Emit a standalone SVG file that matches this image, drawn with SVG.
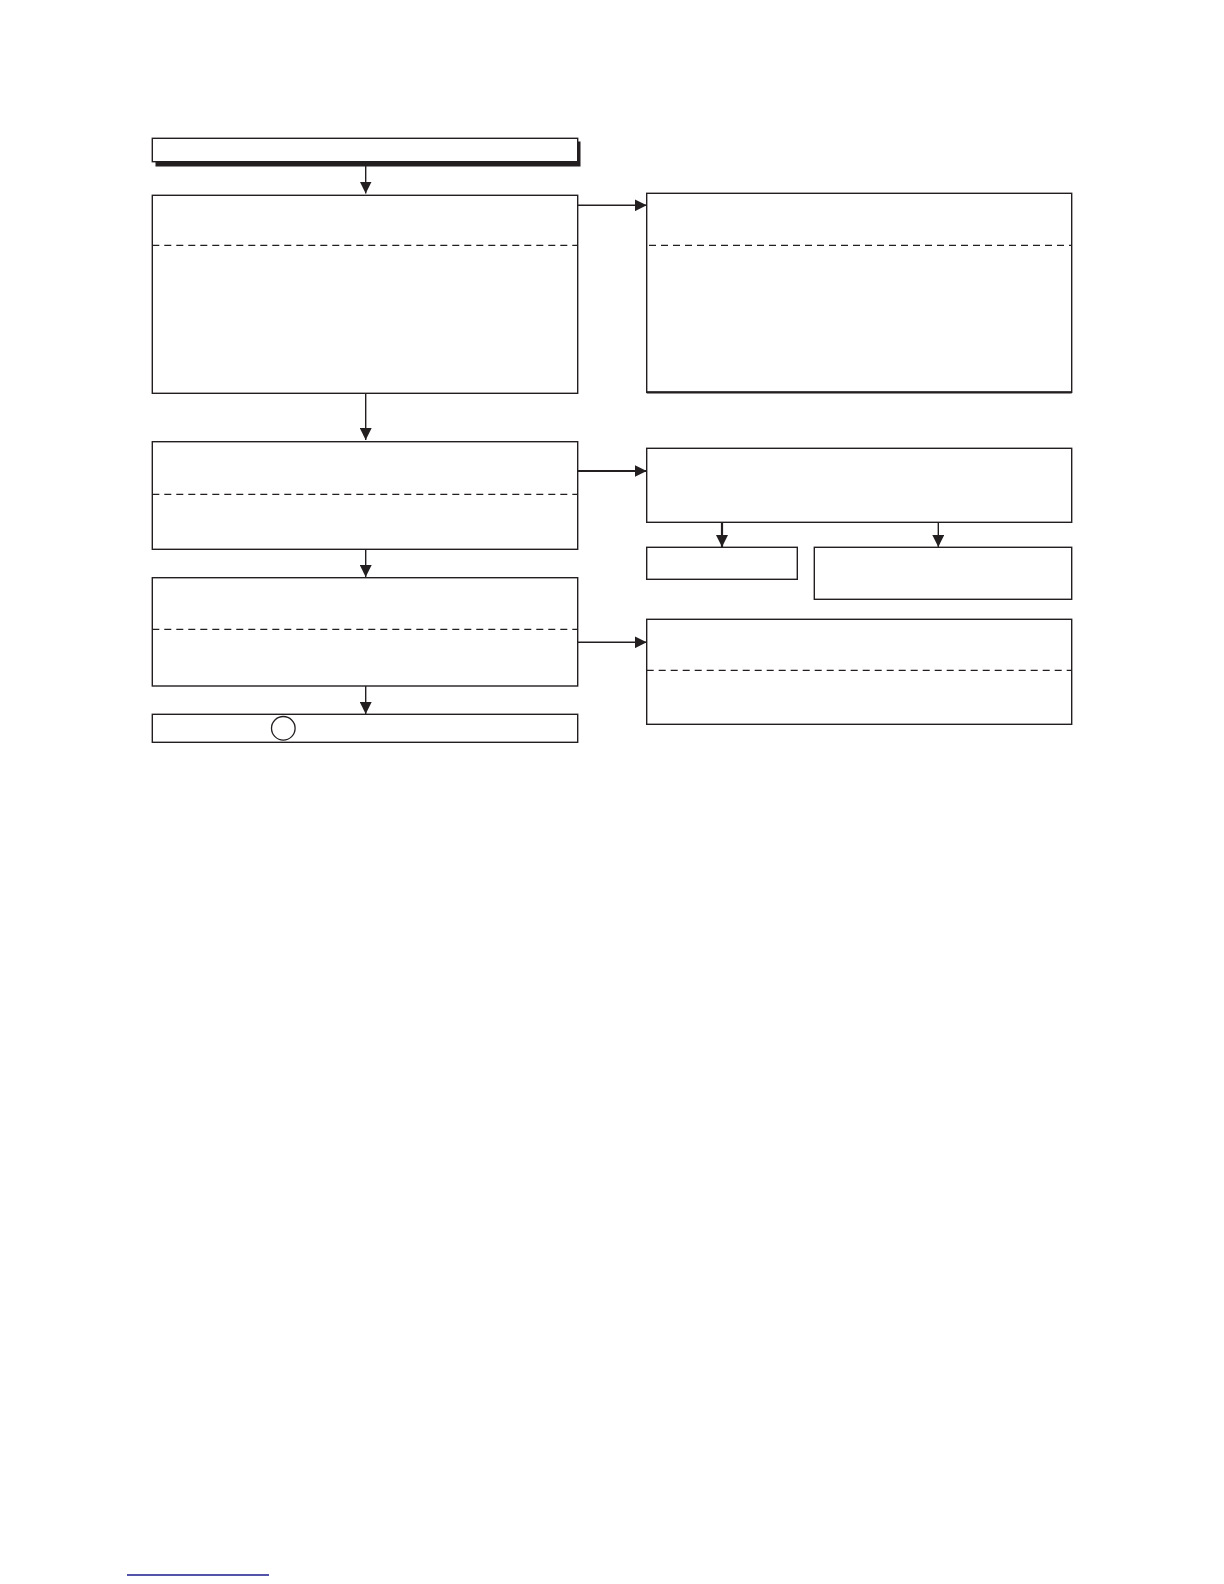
<svg xmlns="http://www.w3.org/2000/svg" width="1224" height="1584" viewBox="0 0 1224 1584">
<style>
.box{fill:#fff;stroke:#231f20;stroke-width:1.4}
.dash{stroke:#231f20;stroke-width:1.2;stroke-dasharray:7 5;fill:none}
.con{stroke:#231f20;stroke-width:1.4;fill:none}
.thick{stroke-width:2.2}
</style>
<defs>
<marker id="ah" viewBox="0 0 12 12" refX="12" refY="6" markerWidth="12" markerHeight="12" markerUnits="userSpaceOnUse" orient="auto">
<path d="M0,0 L12,6 L0,12 Z" fill="#231f20"/>
</marker>
</defs>
<rect width="1224" height="1584" fill="#fff"/>
<g id="n-title">
<rect x="155.5" y="141.5" width="425" height="25" fill="#231f20"/>
<rect class="box" x="152.3" y="138.3" width="425.4" height="23.4"/>
</g>
<g id="n-box1">
<rect class="box" x="152.3" y="195.3" width="425.4" height="198"/>
<line class="dash" x1="152.3" y1="245.3" x2="577.7" y2="245.3"/>
</g>
<g id="n-right1">
<rect class="box" x="646.7" y="193.3" width="425" height="199"/>
<line x1="646.7" y1="392.3" x2="1071.7" y2="392.3" stroke="#231f20" stroke-width="2.2"/>
<line class="dash" x1="649" y1="245.3" x2="1071.7" y2="245.3"/>
</g>
<g id="n-box2">
<rect class="box" x="152.3" y="441.7" width="425.4" height="107.6"/>
<line class="dash" x1="152.3" y1="494.3" x2="577.7" y2="494.3"/>
</g>
<g id="n-right2">
<rect class="box" x="646.7" y="448.3" width="425" height="74"/>
</g>
<g id="n-small1">
<rect class="box" x="646.7" y="547.3" width="150.6" height="32"/>
</g>
<g id="n-small2">
<rect class="box" x="814.3" y="547.3" width="257.4" height="52"/>
</g>
<g id="n-box3">
<rect class="box" x="152.3" y="577.7" width="425.4" height="108.3"/>
<line class="dash" x1="152.3" y1="629.3" x2="577.7" y2="629.3"/>
</g>
<g id="n-right3">
<rect class="box" x="646.7" y="619.3" width="425" height="105"/>
<line class="dash" x1="646.7" y1="670.3" x2="1071.7" y2="670.3"/>
</g>
<g id="n-end">
<rect class="box" x="152.3" y="714.3" width="425.4" height="28"/>
<circle cx="283.3" cy="728.3" r="11.8" fill="#fff" stroke="#231f20" stroke-width="1.3"/>
</g>
<g id="connectors">
<line class="con" x1="365.7" y1="161.7" x2="365.7" y2="193.5" marker-end="url(#ah)"/>
<line class="con" x1="577.7" y1="205.3" x2="646.7" y2="205.3" marker-end="url(#ah)"/>
<line class="con" x1="365.7" y1="393.3" x2="365.7" y2="440" marker-end="url(#ah)"/>
<line class="con thick" x1="577.7" y1="471" x2="646.7" y2="471" marker-end="url(#ah)"/>
<line class="con thick" x1="722" y1="522.3" x2="722" y2="547" marker-end="url(#ah)"/>
<line class="con" x1="938.3" y1="522.3" x2="938.3" y2="547" marker-end="url(#ah)"/>
<line class="con" x1="365.7" y1="549.3" x2="365.7" y2="577" marker-end="url(#ah)"/>
<line class="con" x1="577.7" y1="642.3" x2="646.7" y2="642.3" marker-end="url(#ah)"/>
<line class="con" x1="365.7" y1="686" x2="365.7" y2="714" marker-end="url(#ah)"/>
</g>
<line x1="127" y1="1575" x2="269" y2="1575" stroke="#1a1a8c" stroke-width="1.4"/>
</svg>
